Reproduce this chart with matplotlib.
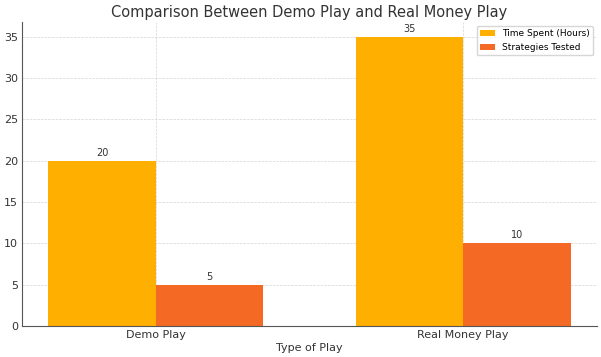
import matplotlib.pyplot as plt
import numpy as np

# Data
categories = ['Demo Play', 'Real Money Play']
time_spent = [20, 35]
strategies = [5, 10]

x = np.arange(len(categories))
width = 0.35

fig, ax = plt.subplots(figsize=(6.01, 3.57), dpi=100)

b1 = ax.bar(x - width / 2, time_spent, width, label='Time Spent (Hours)', color='#FFAF00')
b2 = ax.bar(x + width / 2, strategies, width, label='Strategies Tested', color='#F46A25')

ax.bar_label(b1, padding=2, fontsize=7, color='#333333')
ax.bar_label(b2, padding=2, fontsize=7, color='#333333')

ax.set_title('Comparison Between Demo Play and Real Money Play', fontsize=10.5, color='#333333', pad=4)
ax.set_xlabel('Type of Play', fontsize=8, color='#333333', labelpad=2)
ax.set_xticks(x)
ax.set_xticklabels(categories)
ax.tick_params(labelsize=8, colors='#333333', length=0, pad=3)

ax.grid(True, linestyle='--', linewidth=0.5, color='#d4d4d4')
ax.set_axisbelow(True)
for s in ['top', 'right']:
    ax.spines[s].set_visible(False)
for s in ['left', 'bottom']:
    ax.spines[s].set_color('#555555')
    ax.spines[s].set_linewidth(0.8)

ax.legend(fontsize=6.5, loc='upper right', handlelength=1.6, borderaxespad=0.4)

fig.subplots_adjust(left=0.037, right=0.993, top=0.938, bottom=0.087)
fig.savefig('out.png')
